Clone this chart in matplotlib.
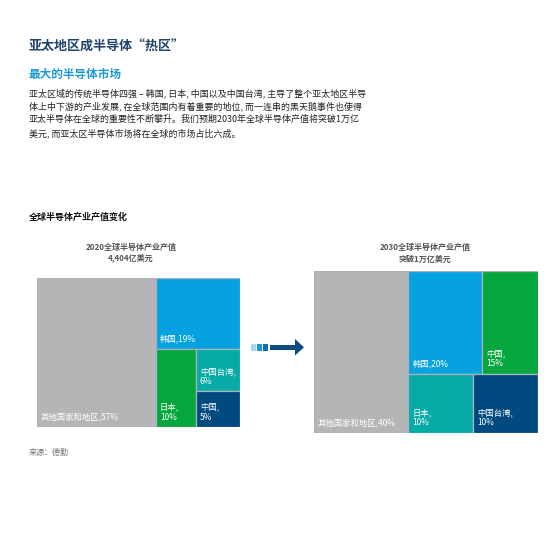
import matplotlib
matplotlib.use("Agg")
import matplotlib.pyplot as plt
from matplotlib.patches import Rectangle, Polygon

plt.rcParams['font.family'] = ['Noto Sans CJK SC', 'DejaVu Sans']

W, H = 554, 555

# data
title = '亚太地区成半导体“热区”'
subtitle = '最大的半导体市场'
body = ['亚太区域的传统半导体四强 – 韩国, 日本, 中国以及中国台湾, 主导了整个亚太地区半导',
        '体上中下游的产业发展, 在全球范围内有着重要的地位, 而一连串的黑天鹅事件也使得',
        '亚太半导体在全球的重要性不断攀升。我们预期2030年全球半导体产值将突破1万亿',
        '美元, 而亚太区半导体市场将在全球的市场占比六成。']
chart_title = '全球半导体产业产值变化'
source = '来源：德勤'

names_2020 = ['其他国家和地区', '韩国', '日本', '中国台湾', '中国']
share_2020 = [57, 19, 10, 6, 5]
head_2020 = ['2020全球半导体产业产值', '4,404亿美元']

names_2030 = ['其他国家和地区', '韩国', '中国', '日本', '中国台湾']
share_2030 = [40, 20, 15, 10, 10]
head_2030 = ['2030全球半导体产业产值', '突破1万亿美元']

colors = {'其他国家和地区': '#b4b5b7', '韩国': '#06a2e0', '日本': '#05a63e',
          '中国台湾': '#06aba8', '中国': '#014a80'}
colors_2030 = {'其他国家和地区': '#b4b5b7', '韩国': '#06a2e0', '中国': '#05a63e',
               '日本': '#06aba8', '中国台湾': '#014a80'}


def fx(x):
    return x / W


def fy(y):
    return 1 - y / H


def layout_2020(v):
    # others | (korea / (japan | (taiwan / china)))
    t = float(sum(v))
    w0 = v[0] / t
    rest = sum(v[1:])
    h1 = v[1] / rest
    bottom = v[2] + v[3] + v[4]
    w2 = (1 - w0) * v[2] / bottom
    h3 = (1 - h1) * v[3] / (v[3] + v[4])
    return [(0, 0, w0, 1),
            (w0, 1 - h1, 1 - w0, h1),
            (w0, 0, w2, 1 - h1),
            (w0 + w2, 1 - h1 - h3, 1 - w0 - w2, h3),
            (w0 + w2, 0, 1 - w0 - w2, 1 - h1 - h3)]


def layout_2030(v):
    # others | ((korea | china) / (japan | taiwan))
    t = float(sum(v))
    w0 = v[0] / t
    rest = sum(v[1:])
    htop = (v[1] + v[2]) / rest
    wk = (1 - w0) * v[1] / (v[1] + v[2])
    wj = (1 - w0) * v[3] / (v[3] + v[4])
    return [(0, 0, w0, 1),
            (w0, 1 - htop, wk, htop),
            (w0 + wk, 1 - htop, 1 - w0 - wk, htop),
            (w0, 0, wj, 1 - htop),
            (w0 + wj, 0, 1 - w0 - wj, 1 - htop)]


def draw_tree(ax, names, vals, rects, cmap, twoline):
    ax.set_xlim(0, 1)
    ax.set_ylim(0, 1)
    ax.axis('off')
    for n, v, (x, y, w, h) in zip(names, vals, rects):
        ax.add_patch(Rectangle((x, y), w, h, facecolor=cmap[n],
                               edgecolor='#a9b3bb', linewidth=0.9))
        if n in twoline:
            lab = n + ',\n' + str(v) + '%'
        else:
            lab = n + ',' + str(v) + '%'
        ax.text(x + 0.018, y + 0.035, lab, color='white', fontsize=6.0,
                ha='left', va='bottom', linespacing=1.2)


fig = plt.figure(figsize=(W / 100, H / 100), dpi=100)

fig.text(fx(29), fy(47), title, color='#1f436d', fontsize=9.4,
         fontweight='bold', va='center')
fig.text(fx(29), fy(74), subtitle, color='#1c9ad6', fontsize=8.4,
         fontweight='bold', va='center')
for i, line in enumerate(body):
    fig.text(fx(29), fy(93 + i * 13.4), line, color='#222222', fontsize=6.45,
             va='center')
fig.text(fx(29), fy(217), chart_title, color='#111111', fontsize=6.5,
         fontweight='bold', va='center')

for i, line in enumerate(head_2020):
    fig.text(fx(131), fy(247 + i * 12), line, color='#555555', fontsize=5.8,
             fontweight='bold', ha='center', va='center')
for i, line in enumerate(head_2030):
    fig.text(fx(425), fy(247 + i * 12), line, color='#555555', fontsize=5.8,
             fontweight='bold', ha='center', va='center')

ax1 = fig.add_axes([fx(37), fy(427), fx(203), 149 / H])
draw_tree(ax1, names_2020, share_2020, layout_2020(share_2020), colors,
          ['日本', '中国台湾', '中国'])

ax2 = fig.add_axes([fx(314), fy(433), fx(224), 162 / H])
draw_tree(ax2, names_2030, share_2030, layout_2030(share_2030), colors_2030,
          ['中国', '日本', '中国台湾'])

# arrow between the two charts
ov = fig.add_axes([0, 0, 1, 1])
ov.set_xlim(0, W)
ov.set_ylim(H, 0)
ov.axis('off')
for x0, c in [(251, '#a9d5f0'), (257, '#1a9ad6'), (263, '#0c6fae')]:
    ov.add_patch(Rectangle((x0, 344), 4.8, 6.5, facecolor=c, edgecolor='none'))
ov.add_patch(Rectangle((270, 344.8), 26, 5, facecolor='#0d4a80', edgecolor='none'))
ov.add_patch(Polygon([(295, 339), (304, 347.3), (295, 355.5)], closed=True,
                     facecolor='#0d4a80', edgecolor='none'))

fig.text(fx(29), fy(452), source, color='#777777', fontsize=5.8, va='center')

fig.savefig('out.png', dpi=100)
